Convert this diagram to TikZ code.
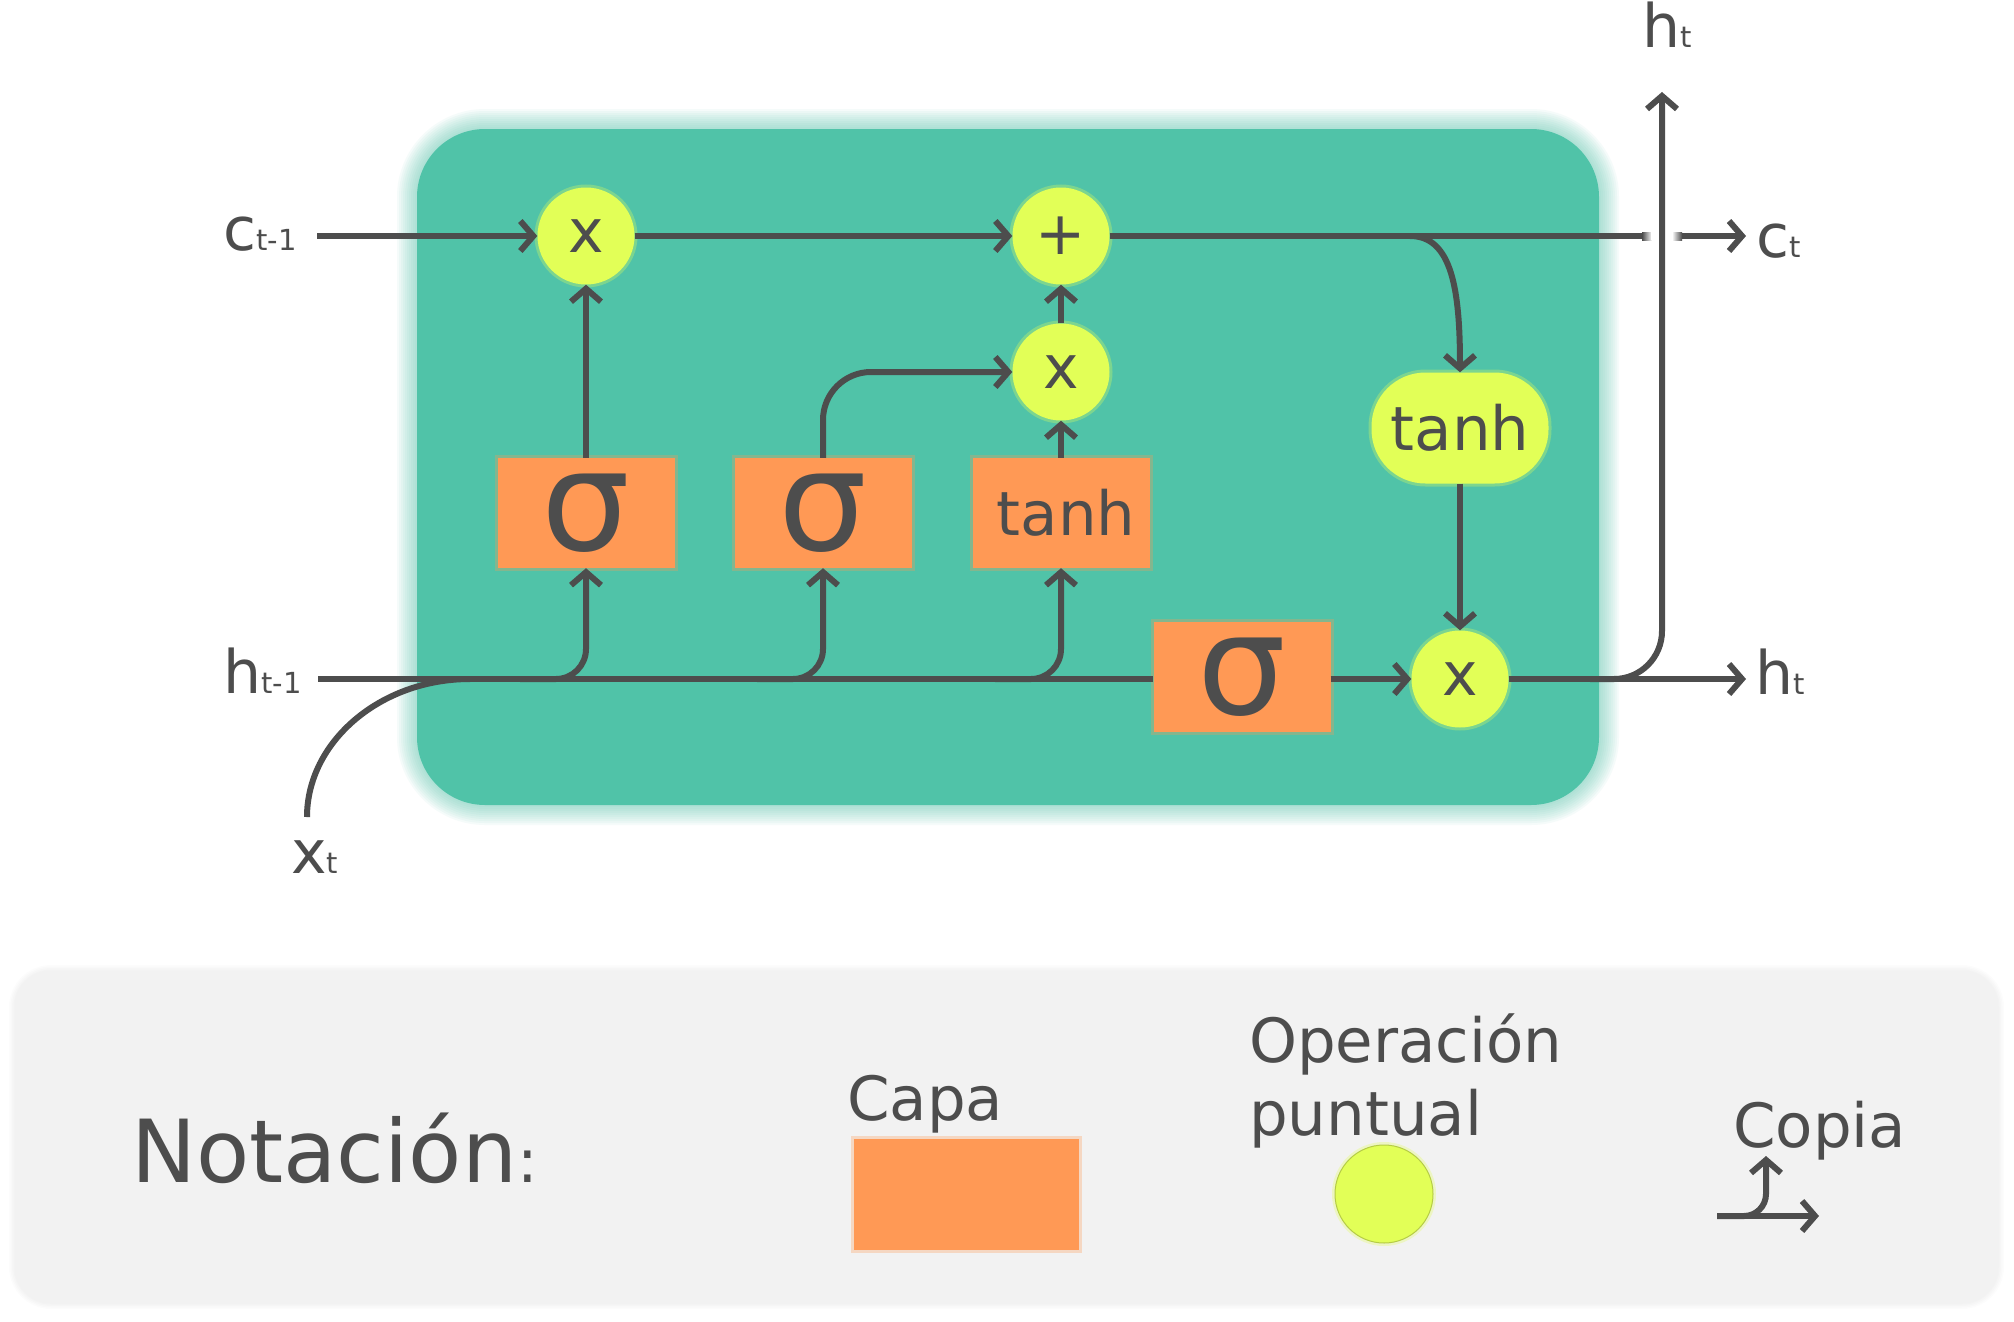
\documentclass[tikz,border=0pt]{standalone}
\usepackage{fontspec}
\setmainfont{DejaVu Sans}
\usetikzlibrary{arrows.meta}
\definecolor{lc}{HTML}{4D4D4D}
\definecolor{teal1}{RGB}{80,195,168}
\definecolor{orng}{HTML}{FF9955}
\definecolor{ygr}{RGB}{226,255,87}
\definecolor{lgray}{HTML}{F2F2F2}
\newcommand\fsz[1]{\fontsize{#1}{#1}\selectfont}
\newcommand\subs[1]{{\fsz{29}#1}}
\begin{document}
\begin{tikzpicture}[x=1pt,y=-1pt,
  line/.style={draw=lc, line width=6pt},
  conn/.style={line, -{Straight Barb[length=13pt,width=30pt]}},
  glow/.style={preaction={draw=#1, draw opacity=0.3, line width=6pt}},
  gate/.style={circle, fill=ygr, minimum size=97pt, inner sep=0pt, text=lc, font=\fsz{60}, glow=ygr},
  layer/.style={rectangle, fill=orng, minimum width=177pt, minimum height=110pt, inner sep=0pt, text=lc, glow=orng},
  lbl/.style={anchor=base west, inner sep=0pt, text=lc, font=\fsz{60}},
]
\useasboundingbox (0,0) rectangle (2014,1322);
\fill[white] (0,0) rectangle (2014,1322);

% main cell box with glow
\foreach \w in {4,8,...,40}
  \draw[teal1, draw opacity=0.055, line width=\w pt, rounded corners=68pt] (417,129) rectangle (1599,805);
\fill[teal1, rounded corners=68pt] (417,129) rectangle (1599,805);

% legend box
\foreach \w in {3,6,9,12}
  \draw[black, draw opacity=0.012, line width=\w pt, rounded corners=36pt] (15,971) rectangle (1998,1303);
\fill[lgray, rounded corners=36pt] (15,971) rectangle (1998,1303);

% nodes
\node[gate] (X1) at (586,236) {x};
\node[gate] (P) at (1061,236) {+};
\node[gate] (X2) at (1061,372) {x};
\node[gate] (OX) at (1460,679) {x};
\node[layer, font=\fsz{140}] (S1) at (586,513) {σ};
\node[layer, font=\fsz{140}] (S2) at (823,513) {σ};
\node[layer, font=\fsz{61}] (TB) at (1061,513) {\hspace*{10pt}tanh};
\node[layer, font=\fsz{140}] (S3) at (1242,677) {σ};
\node[fill=ygr, rounded corners=54pt, minimum width=177pt, minimum height=111pt, inner sep=0pt, text=lc, font=\fsz{61}, glow=ygr] (T2) at (1460,428) {tanh};

% labels
\node[lbl] (cprev) at (223,250) {c\subs{t-1}};
\node[lbl] (hprev) at (223,693) {h\subs{t-1}};
\node[lbl] (xt) at (291,873) {x\subs{t}};
\node[lbl] (cnext) at (1756,257) {c\subs{t}};
\node[lbl] (hnext) at (1755,694) {h\subs{t}};
\node[lbl] (hup) at (1642,48) {h\subs{t}};

% coordinates
\coordinate (cin) at (317,236);
\coordinate (cout) at (1746,236);
\coordinate (cb) at (1410,236);
\coordinate (hin) at (318,679);
\coordinate (xin) at (307,817);
\coordinate (xj) at (470,679);
\coordinate (b1) at (520,679);
\coordinate (b2) at (757,679);
\coordinate (b3) at (995,679);
\coordinate (hout) at (1746,679);
\coordinate (ob) at (1590,679);
\coordinate (hupc) at (1662,92);

% connectors
\draw[conn] (cin) -- (X1);
\draw[conn] (X1) -- (P);
\draw[conn] (P) -- (cout);
\draw[conn] (cb) .. controls (1452,236) and (1460,290) .. (T2.north);
\draw[conn] (T2) -- (OX);
\draw[line] (hin) -- (S3.west |- hin);
\draw[line] (xin) .. controls (307,742) and (380,679) .. (xj);
\draw[conn, rounded corners=30pt] (b1) -| (S1.south);
\draw[conn, rounded corners=30pt] (b2) -| (S2.south);
\draw[conn, rounded corners=30pt] (b3) -| (TB.south);
\draw[conn] (S1) -- (X1);
\draw[conn, rounded corners=48pt] (S2.north) |- (X2.west);
\draw[conn] (TB) -- (X2);
\draw[conn] (X2) -- (P);
\draw[conn] (S3.east |- OX) -- (OX);
\draw[conn] (OX) -- (hout);
% gap in c line where h_t crosses
\shade[left color=lc, right color=white] (1642,232) rectangle (1652,240);
\fill[white] (1651,232) rectangle (1673,240);
\shade[left color=white, right color=lc] (1672,232) rectangle (1682,240);
\draw[conn, rounded corners=48pt] (ob) -| (hupc);

% legend
\node[lbl, font=\fsz{87}] (nota) at (131,1182) {Notación{\fsz{61}:}};
\node[lbl, font=\fsz{61}] (capa) at (847,1120) {Capa};
\node[fill=orng, minimum width=225pt, minimum height=111pt, inner sep=0pt, glow=orng] (capabox) at (966.5,1194.5) {};
\node[lbl, font=\fsz{61}] (op1) at (1249,1062) {Operación};
\node[lbl, font=\fsz{61}] (op2) at (1249,1135) {puntual};
\node[circle, fill=ygr, draw=ygr!80!black, line width=1pt, minimum size=98pt, inner sep=0pt, glow=ygr] (opc) at (1384,1194) {};
\node[lbl, font=\fsz{61}] (copia) at (1733,1147) {Copia};
\coordinate (cpa) at (1717,1216);
\coordinate (cpr) at (1819,1216);
\coordinate (cpu) at (1766,1156);
\draw[conn] (cpa) -- (cpr);
\draw[conn, rounded corners=22pt] (cpa) -| (cpu);
\end{tikzpicture}
\end{document}
